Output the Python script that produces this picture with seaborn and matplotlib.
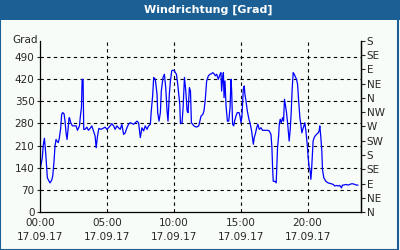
import matplotlib
matplotlib.use("Agg")
import matplotlib.pyplot as plt
import seaborn as sns
import pandas as pd
from matplotlib.patches import Rectangle

hours = [0.00, 0.08, 0.17, 0.25, 0.33, 0.40, 0.45, 0.55, 0.68, 0.75, 0.87, 0.95, 1.05, 1.12, 1.20, 1.30, 1.37, 1.45, 1.55, 1.62,
         1.70, 1.80, 1.87, 1.95, 2.02, 2.10, 2.17, 2.20, 2.30, 2.42, 2.57, 2.70, 2.80, 2.95, 3.02, 3.10, 3.15, 3.22, 3.27, 3.37,
         3.50, 3.62, 3.75, 3.87, 4.00, 4.12, 4.20, 4.30, 4.40, 4.55, 4.70, 4.87, 5.00, 5.12, 5.25, 5.37, 5.50, 5.62, 5.75, 5.87,
         6.00, 6.12, 6.25, 6.37, 6.50, 6.62, 6.75, 7.00, 7.25, 7.37, 7.50, 7.62, 7.75, 7.87, 8.00, 8.12, 8.25, 8.32, 8.42, 8.50,
         8.62, 8.75, 8.80, 8.90, 9.00, 9.07, 9.20, 9.30, 9.40, 9.50, 9.57, 9.67, 9.75, 9.85, 9.95, 10.05, 10.12, 10.20, 10.30, 10.45,
         10.50, 10.62, 10.70, 10.80, 10.90, 11.00, 11.07, 11.17, 11.25, 11.32, 11.50, 11.70, 11.87, 12.04, 12.17, 12.26, 12.36, 12.46, 12.59, 12.71,
         12.84, 12.91, 13.01, 13.11, 13.21, 13.33, 13.46, 13.53, 13.58, 13.66, 13.71, 13.76, 13.83, 13.91, 14.01, 14.11, 14.21, 14.28, 14.33, 14.40,
         14.48, 14.55, 14.65, 14.75, 14.88, 14.95, 15.03, 15.10, 15.20, 15.27, 15.32, 15.40, 15.50, 15.62, 15.70, 15.82, 15.95, 16.02, 16.12, 16.20,
         16.29, 16.39, 16.52, 16.64, 16.82, 17.02, 17.14, 17.27, 17.34, 17.39, 17.44, 17.56, 17.66, 17.71, 17.76, 17.84, 17.89, 17.96, 18.04, 18.14,
         18.21, 18.28, 18.36, 18.43, 18.51, 18.58, 18.63, 18.71, 18.78, 18.86, 18.93, 19.01, 19.11, 19.18, 19.26, 19.33, 19.43, 19.50, 19.58, 19.65,
         19.73, 19.80, 19.88, 19.93, 20.00, 20.05, 20.13, 20.20, 20.25, 20.30, 20.37, 20.42, 20.50, 20.57, 20.67, 20.80, 20.87, 20.92, 21.00, 21.07,
         21.12, 21.22, 21.37, 21.54, 21.79, 21.92, 22.04, 22.17, 22.29, 22.41, 22.54, 22.61, 22.71, 22.86, 23.04, 23.16, 23.28, 23.41, 23.53, 23.66,
         23.78]
degrees = [129, 150, 171, 213, 233, 200, 171, 108, 97, 92, 100, 113, 161, 208, 229, 222, 219, 235, 266, 308,
           314, 310, 287, 250, 229, 262, 297, 298, 282, 272, 272, 272, 258, 272, 303, 330, 419, 419, 261, 261,
           268, 258, 264, 272, 256, 240, 203, 240, 264, 261, 264, 268, 261, 266, 272, 279, 272, 261, 272, 266,
           261, 277, 245, 250, 266, 277, 282, 277, 287, 282, 235, 266, 256, 272, 261, 272, 277, 319, 366, 425,
           419, 372, 314, 287, 314, 382, 425, 435, 393, 319, 287, 372, 414, 446, 448, 446, 440, 435, 403, 340,
           279, 282, 330, 425, 382, 319, 314, 393, 382, 282, 272, 268, 272, 303, 308, 319, 356, 414, 430, 435,
           437, 440, 437, 430, 435, 419, 435, 440, 382, 425, 440, 361, 414, 335, 287, 287, 330, 419, 382, 277,
           272, 287, 303, 314, 314, 303, 282, 303, 388, 398, 372, 351, 319, 293, 282, 256, 214, 235, 250, 266,
           277, 261, 266, 258, 258, 258, 256, 245, 203, 140, 97, 97, 92, 150, 203, 240, 277, 293, 282, 298,
           287, 356, 335, 314, 282, 250, 224, 261, 314, 393, 440, 435, 425, 419, 403, 356, 298, 277, 250, 261,
           272, 282, 256, 235, 203, 171, 140, 129, 103, 129, 182, 224, 235, 240, 245, 250, 256, 272, 235, 192,
           134, 108, 97, 92, 89, 87, 82, 84, 82, 84, 76, 85, 85, 87, 85, 87, 89, 89, 87, 85,
           85]

y_ticks = [0, 70, 140, 210, 280, 350, 420, 490]
x_ticks = [0, 5, 10, 15, 20]
x_labels = ["00:00\n17.09.17", "05:00\n17.09.17", "10:00\n17.09.17", "15:00\n17.09.17", "20:00\n17.09.17"]
dir_ticks = [0, 45, 90, 135, 180, 225, 270, 315, 360, 405, 450, 495, 540]
dir_labels = ["N", "NE", "E", "SE", "S", "SW", "W", "NW", "N", "NE", "E", "SE", "S"]
title = "Windrichtung [Grad]"

sns.set_style("white")
plt.rcParams['font.family'] = ['DejaVu Sans']

bg = "#f8fcf8"
frame_blue = "#1c5f94"

fig = plt.figure(figsize=(4, 2.5), dpi=100, facecolor=bg)
ax = fig.add_axes([0.1, 0.152, 0.8025, 0.684])
ax.set_facecolor(bg)

df = pd.DataFrame({"h": hours, "deg": degrees})
sns.lineplot(data=df, x="h", y="deg", ax=ax, color="#0000ff", linewidth=0.9, sort=False)

ax.set_xlim(0, 24)
ax.set_ylim(0, 540)
ax.set_xlabel("")
ax.set_ylabel("")
ax.set_yticks(y_ticks)
ax.set_yticklabels([str(v) for v in y_ticks], fontsize=7.5)
ax.set_xticks(x_ticks)
ax.set_xticklabels(x_labels, fontsize=7.5, linespacing=1.6)
ax.set_xticks(range(0, 25), minor=True)
ax.tick_params(axis="x", which="major", direction="in", length=4, width=0.8, pad=4)
ax.tick_params(axis="x", which="minor", direction="in", length=3, width=0.8)
ax.tick_params(axis="y", which="major", direction="out", length=2, width=0.8, pad=2)
for s in ax.spines.values():
    s.set_color("black")
    s.set_linewidth(0.9)
ax.spines["top"].set_visible(False)

for v in y_ticks[1:]:
    ax.axhline(v, color="black", linestyle=(0, (3, 3)), linewidth=0.8, zorder=0)
for v in x_ticks[1:]:
    ax.axvline(v, color="black", linestyle=(0, (3, 3)), linewidth=0.8, zorder=0)

ax2 = ax.twinx()
ax2.set_ylim(0, 540)
ax2.set_yticks(dir_ticks)
ax2.set_yticklabels(dir_labels, fontsize=7.5)
ax2.tick_params(axis="y", direction="out", length=3, width=0.8, pad=1)
for s in ax2.spines.values():
    s.set_visible(False)
ax2.spines["right"].set_visible(True)
ax2.spines["right"].set_color("black")
ax2.spines["right"].set_linewidth(0.9)

fig.text(0.095, 0.82, "Grad", fontsize=7.5, ha="right", va="bottom")

fig.patches.append(Rectangle((0, 1 - 20 / 250), 1, 20 / 250, transform=fig.transFigure,
                             facecolor=frame_blue, edgecolor="none", zorder=5))
fig.patches.append(Rectangle((0.001, 0.002), 0.995, 0.99, transform=fig.transFigure,
                             facecolor="none", edgecolor=frame_blue, linewidth=1.5, zorder=5))
fig.text(0.52, 1 - 10 / 250, title, color="white", fontsize=8, fontweight="bold",
         ha="center", va="center", zorder=6)

fig.savefig("out.png", dpi=100, facecolor=bg)
